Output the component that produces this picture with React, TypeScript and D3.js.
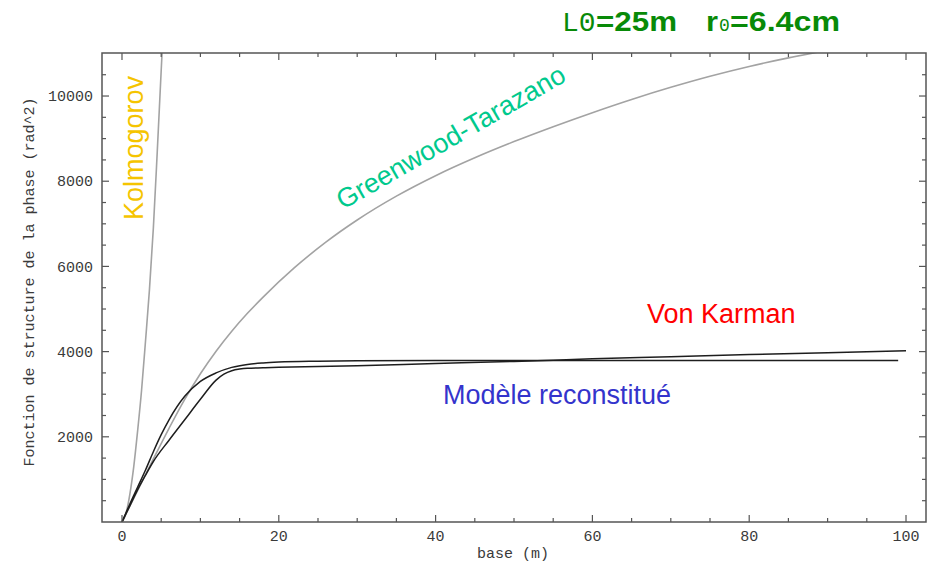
import React from "react";
import * as d3 from "d3";

// values
const kolmoBase = [0, 0.5, 1, 1.5, 2, 2.5, 3, 3.5, 4, 4.5, 5, 5.3];
const kolmogorov = [0, 200, 650, 1300, 2150, 3100, 4250, 5450, 6900, 8700, 10600, 11700];

const gtBase = [0, 2, 4, 6, 8, 10, 12, 14, 16, 18, 22, 26, 30, 35, 40, 45, 50, 55, 60, 65, 70, 75, 80, 85, 90];
const greenwood = [0, 740, 1480, 2200, 2880, 3480, 4010, 4480, 4900, 5280, 5970, 6570, 7090, 7650, 8130, 8550, 8930, 9280, 9610, 9920, 10205, 10465, 10695, 10895, 11075];

const vkBase = [0, 1, 2, 3, 4, 5, 6, 8, 10, 12, 14, 16, 18, 20, 25, 30, 40, 50, 60, 70, 80, 90, 99];
const vonKarman = [0, 420, 820, 1220, 1650, 2050, 2400, 2950, 3300, 3500, 3630, 3700, 3735, 3755, 3775, 3785, 3790, 3790, 3790, 3790, 3790, 3790, 3790];

const modBase = [0, 1, 2, 3, 4, 6, 8, 10, 12, 13, 14, 15, 16, 18, 20, 25, 30, 40, 50, 60, 70, 80, 90, 100];
const reconstitue = [0, 380, 760, 1100, 1420, 1920, 2400, 2880, 3330, 3470, 3550, 3590, 3610, 3620, 3630, 3650, 3670, 3720, 3770, 3830, 3880, 3930, 3975, 4020];

const xLabels = [0, 20, 40, 60, 80, 100];
const yLabels = [2000, 4000, 6000, 8000, 10000];

const W = 937;
const H = 563;
const margin = { top: 53, right: 11, bottom: 41, left: 102 };
const mono = "'Liberation Mono', 'Courier New', monospace";
const sans = "'Liberation Sans', Arial, sans-serif";

const App = () => {
  const x = d3
    .scaleLinear()
    .domain([-2.55, 102.55])
    .range([margin.left, W - margin.right]);
  const y = d3
    .scaleLinear()
    .domain([0, 11010])
    .range([H - margin.bottom, margin.top]);

  const line = (xs: number[], ys: number[]) =>
    d3
      .line<number>()
      .x((d, i) => x(xs[i]))
      .y((d) => y(d))
      .curve(d3.curveMonotoneX)(ys) || "";

  const x0 = margin.left;
  const x1 = W - margin.right;
  const y0 = H - margin.bottom;
  const y1 = margin.top;

  const xMinor = d3.range(0, 101, 5);
  const yMinor = d3.range(500, 11000, 500);
  const axisColor = "#555";

  return (
    <svg
      width={W}
      height={H}
      style={{ position: "absolute", left: 0, top: 0, background: "#fff" }}
    >
      <defs>
        <clipPath id="plot">
          <rect x={x0} y={y1} width={x1 - x0} height={y0 - y1} />
        </clipPath>
      </defs>

      {/* title */}
      <g fill="#088a08">
        <text x={562} y={31} fontFamily={mono} fontSize={28}>L0</text>
        <text x={596} y={31} fontFamily={sans} fontWeight="bold" fontSize={27} textLength={81} lengthAdjust="spacingAndGlyphs">=25m</text>
        <text x={706} y={31} fontFamily={sans} fontWeight="bold" fontSize={27} textLength={12} lengthAdjust="spacingAndGlyphs">r</text>
        <text x={719} y={31} fontFamily={mono} fontSize={18}>0</text>
        <text x={730} y={31} fontFamily={sans} fontWeight="bold" fontSize={27} textLength={110} lengthAdjust="spacingAndGlyphs">=6.4cm</text>
      </g>

      {/* curves */}
      <g clipPath="url(#plot)" fill="none" strokeLinejoin="round">
        <path d={line(kolmoBase, kolmogorov)} stroke="#a3a3a3" strokeWidth={1.6} />
        <path d={line(gtBase, greenwood)} stroke="#a3a3a3" strokeWidth={1.6} />
        <path d={line(vkBase, vonKarman)} stroke="#1e1e1e" strokeWidth={1.5} />
        <path d={line(modBase, reconstitue)} stroke="#1e1e1e" strokeWidth={1.5} />
      </g>

      {/* frame */}
      <rect x={x0} y={y1} width={x1 - x0} height={y0 - y1} fill="none" stroke={axisColor} strokeWidth={1.5} />

      {/* ticks, inward on all sides */}
      <g stroke={axisColor} strokeWidth={1.2}>
        {xMinor.map((v) => {
          const len = v % 20 === 0 ? 7 : 4;
          return (
            <g key={"xt" + v}>
              <line x1={x(v)} x2={x(v)} y1={y0} y2={y0 - len} />
              <line x1={x(v)} x2={x(v)} y1={y1} y2={y1 + len} />
            </g>
          );
        })}
        {yMinor.map((v) => {
          const len = v % 2000 === 0 ? 7 : 4;
          return (
            <g key={"yt" + v}>
              <line x1={x0} x2={x0 + len} y1={y(v)} y2={y(v)} />
              <line x1={x1} x2={x1 - len} y1={y(v)} y2={y(v)} />
            </g>
          );
        })}
      </g>

      {/* tick labels */}
      <g fontFamily={mono} fontSize={15} fill="#3a3a3a">
        {xLabels.map((v) => (
          <text key={"xl" + v} x={x(v)} y={541} textAnchor="middle">
            {v}
          </text>
        ))}
        {yLabels.map((v) => (
          <text key={"yl" + v} x={93} y={y(v)} dy="0.35em" textAnchor="end">
            {v}
          </text>
        ))}
        <text x={513} y={558} textAnchor="middle">base (m)</text>
        <text transform="translate(34,282) rotate(-90)" textAnchor="middle">
          Fonction de structure de la phase (rad^2)
        </text>
      </g>

      {/* curve labels */}
      <g fontFamily={sans} fontSize={27}>
        <text transform="translate(143,220) rotate(-90)" fill="#f5c400">Kolmogorov</text>
        <text transform="translate(343,210) rotate(-30)" fill="#00c98d">Greenwood-Tarazano</text>
        <text x={647} y={323} fill="#ff0000">Von Karman</text>
        <text x={443} y={404} fill="#3434cc">Modèle reconstitué</text>
      </g>
    </svg>
  );
};

export default App;
